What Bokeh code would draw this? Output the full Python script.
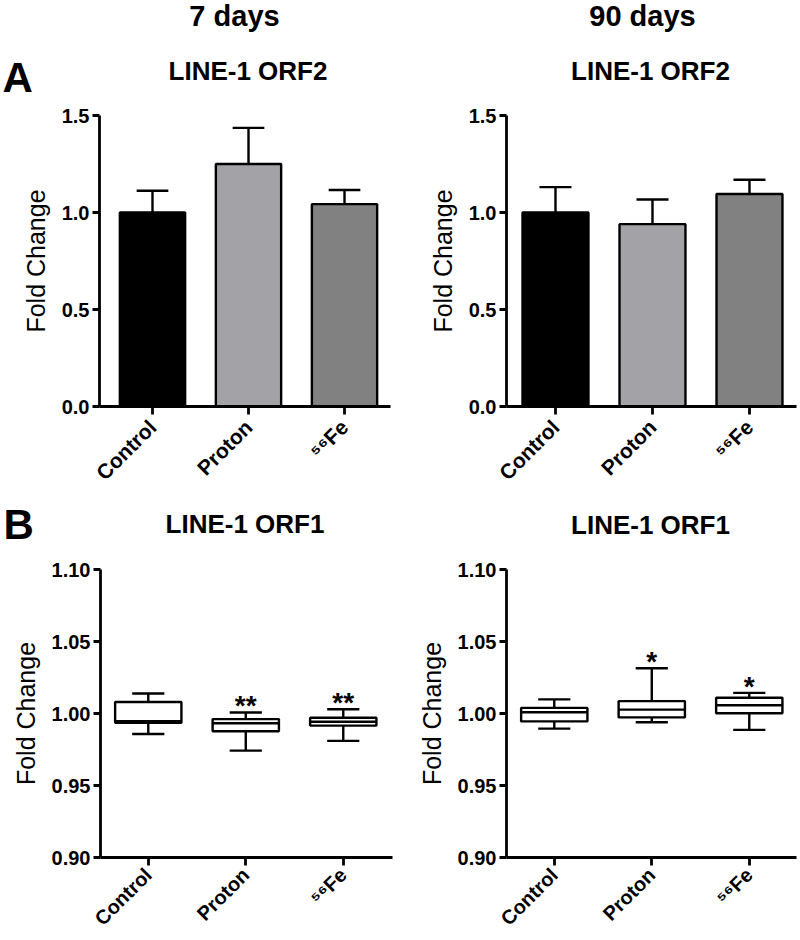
import math
from bokeh.plotting import figure
from bokeh.layouts import column, row
from bokeh.models import FixedTicker, PrintfTickFormatter, Label, Range1d
from bokeh.core.properties import value
from bokeh.embed import file_html
from bokeh.resources import INLINE

# ---------------- data ----------------
categories = ["Control", "Proton", "\u2075\u2076Fe"]
bar_colors = ["#000000", "#a3a3a7", "#818181"]

# LINE-1 ORF2 (mean, SEM)
orf2_7d_mean = [1.00, 1.25, 1.043]
orf2_7d_sem = [0.112, 0.186, 0.073]
orf2_90d_mean = [1.00, 0.94, 1.095]
orf2_90d_sem = [0.131, 0.127, 0.074]

# LINE-1 ORF1 box plots (min, q1, median, q3, max)
orf1_7d_low = [0.9858, 0.9742, 0.9810]
orf1_7d_q1 = [0.9936, 0.9877, 0.9916]
orf1_7d_med = [0.9947, 0.9932, 0.9943]
orf1_7d_q3 = [1.0080, 0.9961, 0.9970]
orf1_7d_high = [1.0139, 1.0007, 1.0030]
orf1_7d_sig = ["", "**", "**"]

orf1_90d_low = [0.9895, 0.9939, 0.9886]
orf1_90d_q1 = [0.9945, 0.9973, 1.0002]
orf1_90d_med = [1.0009, 1.0027, 1.0057]
orf1_90d_q3 = [1.0039, 1.0086, 1.0109]
orf1_90d_high = [1.0098, 1.0314, 1.0143]
orf1_90d_sig = ["", "*", "*"]

orf2_ticks = [0.0, 0.5, 1.0, 1.5]
orf1_ticks = [0.90, 0.95, 1.00, 1.05, 1.10]

col_titles = ["7 days", "90 days"]
orf2_title = "LINE-1 ORF2"
orf1_title = "LINE-1 ORF1"

FONT = "Liberation Sans"
LW = 2.4
BAR_W = 0.68
CAP_W = 0.33


def make_fig(width, height, mb_l, mb_r, mb_t, mb_b, xr, yr, yticks, yfmt, xstandoff, xfont):
    p = figure(width=width, height=height, x_range=Range1d(*xr), y_range=Range1d(*yr),
               output_backend="svg", toolbar_location=None, title=None,
               min_border_left=mb_l, min_border_right=mb_r,
               min_border_top=mb_t, min_border_bottom=mb_b)
    p.outline_line_color = None
    p.grid.visible = False
    p.background_fill_color = "white"
    p.border_fill_color = "white"
    for ax in (p.xaxis[0], p.yaxis[0]):
        ax.axis_line_width = 2.8
        ax.axis_line_color = "black"
        ax.major_tick_line_width = 2.8
        ax.major_tick_line_color = "black"
        ax.major_tick_in = 0
        ax.minor_tick_line_color = None
        ax.major_label_text_font = FONT
        ax.major_label_text_font_style = "bold"
        ax.major_label_text_font_size = "20px"
        ax.major_label_text_color = "black"
    p.xaxis.ticker = FixedTicker(ticks=[0, 1, 2])
    p.xaxis.major_label_overrides = {i: c for i, c in enumerate(categories)}
    p.xaxis.major_label_orientation = math.pi / 4
    p.xaxis.major_label_text_font_size = xfont
    p.xaxis.major_tick_out = 8
    p.xaxis.major_label_standoff = xstandoff
    p.yaxis.ticker = FixedTicker(ticks=yticks)
    p.yaxis.formatter = PrintfTickFormatter(format=yfmt)
    p.yaxis.major_tick_out = 7
    p.yaxis.major_label_standoff = 3
    p.yaxis.axis_label = "Fold Change"
    p.yaxis.axis_label_text_font = FONT
    p.yaxis.axis_label_text_font_style = "normal"
    p.yaxis.axis_label_text_font_size = "25px"
    p.yaxis.axis_label_text_color = "black"
    p.yaxis.axis_label_standoff = 9
    return p


def header(width, height):
    h = figure(width=width, height=height, x_range=Range1d(0, width), y_range=Range1d(height, 0),
               output_backend="svg", toolbar_location=None, min_border=0, title=None,
               x_axis_type=None, y_axis_type=None)
    h.outline_line_color = None
    h.grid.visible = False
    h.background_fill_color = "white"
    h.border_fill_color = "white"
    return h


def htext(h, xs, ys, texts, size, align="center"):
    h.text(x=xs, y=ys, text=texts, text_font=value(FONT), text_font_style="bold",
           text_font_size=size, text_align=align, text_baseline="alphabetic", text_color="black")


def bar_panel(p, means, sems):
    xs = list(range(len(categories)))
    tops = [m + s for m, s in zip(means, sems)]
    p.segment(x0=xs, y0=means, x1=xs, y1=tops, line_color="black", line_width=LW)
    p.segment(x0=[x - CAP_W / 2 for x in xs], y0=tops, x1=[x + CAP_W / 2 for x in xs], y1=tops,
              line_color="black", line_width=LW)
    p.vbar(x=xs, top=means, bottom=0, width=BAR_W, fill_color=bar_colors,
           line_color="black", line_width=LW)


def box_panel(p, low, q1, med, q3, high, sig, star_off):
    xs = list(range(len(categories)))
    p.segment(x0=xs, y0=q3, x1=xs, y1=high, line_color="black", line_width=LW)
    p.segment(x0=xs, y0=q1, x1=xs, y1=low, line_color="black", line_width=LW)
    for vals in (high, low):
        p.segment(x0=[x - CAP_W / 2 for x in xs], y0=vals, x1=[x + CAP_W / 2 for x in xs], y1=vals,
                  line_color="black", line_width=LW)
    p.vbar(x=xs, top=q3, bottom=q1, width=BAR_W, fill_color="white",
           line_color="black", line_width=LW)
    p.segment(x0=[x - BAR_W / 2 for x in xs], y0=med, x1=[x + BAR_W / 2 for x in xs], y1=med,
              line_color="black", line_width=LW)
    for x, hgt, s in zip(xs, high, sig):
        if s:
            p.add_layout(Label(x=x, y=hgt + star_off, text=s, text_font=FONT, text_font_style="bold",
                               text_font_size="28px", text_align="center",
                               text_baseline="alphabetic", text_color="black"))


# ---------------- header A ----------------
hA = header(798, 103)
htext(hA, [234, 642], [15, 15], col_titles, "29px")
htext(hA, [247.5, 650], [70, 70], [orf2_title, orf2_title], "26px")
htext(hA, [2], [77], ["A"], "42px", "left")

# ---------------- panel A ----------------
A_H = 392
pA1 = make_fig(400, A_H, 99, 10, 12, 89, (-0.552, 2.479), (0, 1.5), orf2_ticks, "%.1f", 9, "21px")
bar_panel(pA1, orf2_7d_mean, orf2_7d_sem)
pA2 = make_fig(398, A_H, 106, 2, 12, 89, (-0.505, -0.505 + 290 / 97), (0, 1.5), orf2_ticks, "%.1f", 9, "21px")
bar_panel(pA2, orf2_90d_mean, orf2_90d_sem)

# ---------------- header B ----------------
hB = header(798, 62)
htext(hB, [244.5, 650], [28, 29], [orf1_title, orf1_title], "26px")
htext(hB, [3], [29], ["B"], "42px", "left")

# ---------------- panel B ----------------
B_H = 383
v = 292 / 0.2
pB1 = make_fig(400, B_H, 100, 8, 12, 79, (-0.49, 2.505), (0.90, 1.10), orf1_ticks, "%.2f", 6, "20px")
box_panel(pB1, orf1_7d_low, orf1_7d_q1, orf1_7d_med, orf1_7d_q3, orf1_7d_high, orf1_7d_sig, 7 / v)
pB2 = make_fig(398, B_H, 106, 2, 12, 79, (-0.49, -0.49 + 290 / 97.5), (0.90, 1.10), orf1_ticks, "%.2f", 6, "20px")
box_panel(pB2, orf1_90d_low, orf1_90d_q1, orf1_90d_med, orf1_90d_q3, orf1_90d_high, orf1_90d_sig, 7 / v)

layout = column(hA, row(pA1, pA2), hB, row(pB1, pB2))
open("out.html", "w").write(file_html(layout, INLINE))
